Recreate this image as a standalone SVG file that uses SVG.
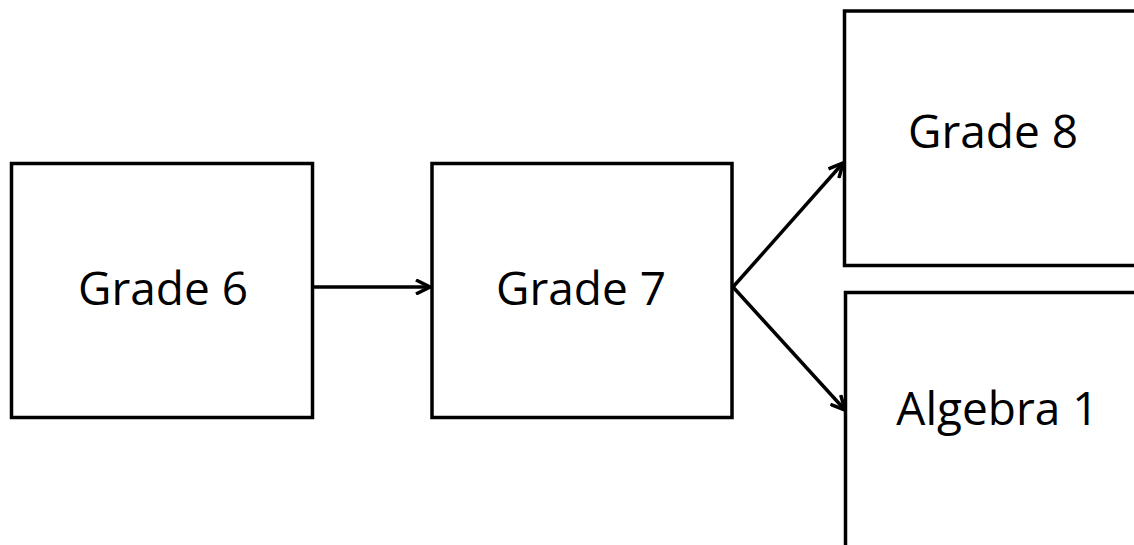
<svg xmlns="http://www.w3.org/2000/svg" width="1134" height="545" viewBox="0 0 1134 545">
<style>
.box{fill:#fff;stroke:#000;stroke-width:3.5}
.lbl{font-family:"Open Sans","Liberation Sans",sans-serif;font-size:46px;fill:#000;text-anchor:middle}
.conn{stroke:#000;stroke-width:3.5;fill:none}
</style>
<defs>
<marker id="arr" viewBox="0 0 16 16" refX="15" refY="8" markerWidth="16" markerHeight="16" markerUnits="userSpaceOnUse" orient="auto">
<path d="M1,1 L15,8 L1,15" fill="none" stroke="#000" stroke-width="3.5"/>
</marker>
</defs>
<rect width="1134" height="545" fill="#fff"/>
<g id="grade6"><rect class="box" x="11.5" y="163.5" width="301" height="254"/><text class="lbl" x="163" y="305">Grade 6</text></g>
<g id="grade7"><rect class="box" x="432" y="163.5" width="300" height="254"/><text class="lbl" x="581" y="305">Grade 7</text></g>
<g id="grade8"><rect class="box" x="844.5" y="11" width="300" height="254.5"/><text class="lbl" x="993" y="148">Grade 8</text></g>
<g id="algebra1"><rect class="box" x="845.5" y="292.5" width="300" height="260"/><text class="lbl" x="997.5" y="425">Algebra 1</text></g>
<g id="connectors">
<line class="conn" x1="313" y1="287" x2="430" y2="287" marker-end="url(#arr)"/>
<line class="conn" x1="733" y1="287" x2="843" y2="163" marker-end="url(#arr)"/>
<line class="conn" x1="733" y1="287" x2="845" y2="410" marker-end="url(#arr)"/>
</g>
</svg>
